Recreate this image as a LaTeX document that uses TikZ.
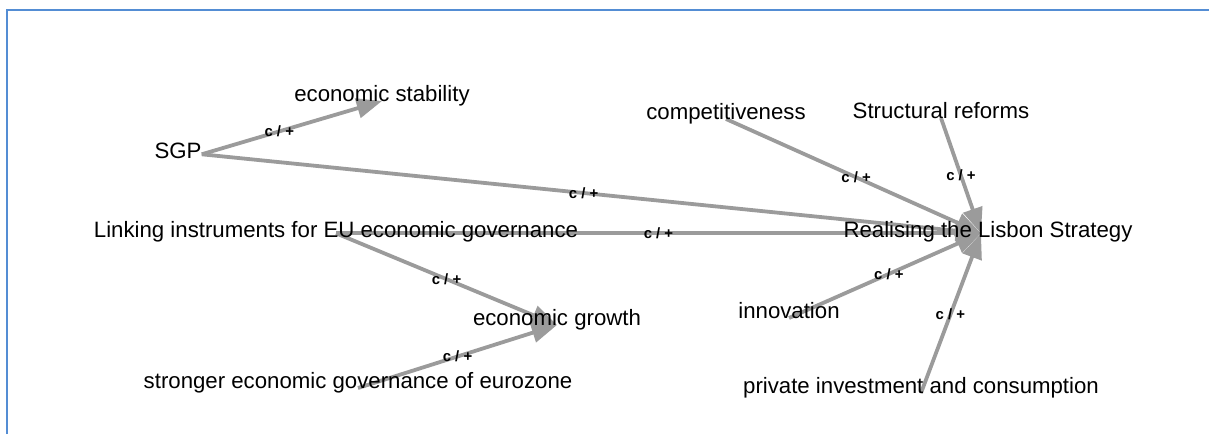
\documentclass[tikz,border=0pt]{standalone}
\usepackage{fontspec}
\setmainfont{Liberation Sans}
\usetikzlibrary{arrows.meta,backgrounds}

\definecolor{frameblue}{RGB}{84,141,212}
\definecolor{linkgray}{RGB}{155,155,155}

\begin{document}
\begin{tikzpicture}[x=0.025cm, y=-0.025cm,
  concept/.style={inner sep=0, anchor=base, text=black, font=\fontsize{15.8}{18}\selectfont},
  rel/.style={draw=linkgray, line width=2.7pt, -{Triangle[length=18pt,width=14pt]}},
  sign/.style={inner sep=0, text=black, font=\fontsize{10.6}{12}\selectfont\bfseries}]

\useasboundingbox (0,0) rectangle (1209,434);
\draw[frameblue, line width=2pt] (7,434) -- (7,10) -- (1209,10);

\node[concept] (sgp) at (178,158) {SGP};
\node[concept] (stab) at (382,101) {economic stability};
\node[concept] (link) at (336,237) {Linking instruments for EU economic governance};
\node[concept] (growth) at (557,325) {economic growth};
\node[concept] (strong) at (358,388) {stronger economic governance of eurozone};

\node[concept] (comp) at (726,119) {competitiveness};
\node[concept] (struct) at (941,118) {Structural reforms};
\node[concept] (lis) at (988,237) {Realising the Lisbon Strategy};
\node[concept] (innov) at (789,318) {innovation};
\node[concept] (priv) at (921,393) {private investment and consumption};

% edges go under the texts
\begin{scope}[on background layer]
\draw[rel] (sgp.mid east) to node[sign, pos=0.43] {c / +} (stab.base);
\draw[rel] (sgp.mid east) to node[sign, pos=0.49] {c / +} ([xshift=-5pt]lis.mid);
\draw[rel] (link.mid) to node[sign] {c / +} ([xshift=-5pt]lis.mid);
\draw[rel] (link.mid) to node[sign] {c / +} (growth.base);
\draw[rel] (strong.base) to node[sign] {c / +} (growth.base);

\draw[rel] (comp.base) to node[sign, pos=0.51] {c / +} ([xshift=-5pt]lis.mid);
\draw[rel] (struct.base) to node[sign] {c / +} ([xshift=-5pt]lis.mid);
\draw[rel] (innov.base) to node[sign, pos=0.52] {c / +} ([xshift=-5pt]lis.mid);
\draw[rel] (priv.base) to node[sign, pos=0.49] {c / +} ([xshift=-5pt]lis.mid);
\end{scope}

\end{tikzpicture}
\end{document}
